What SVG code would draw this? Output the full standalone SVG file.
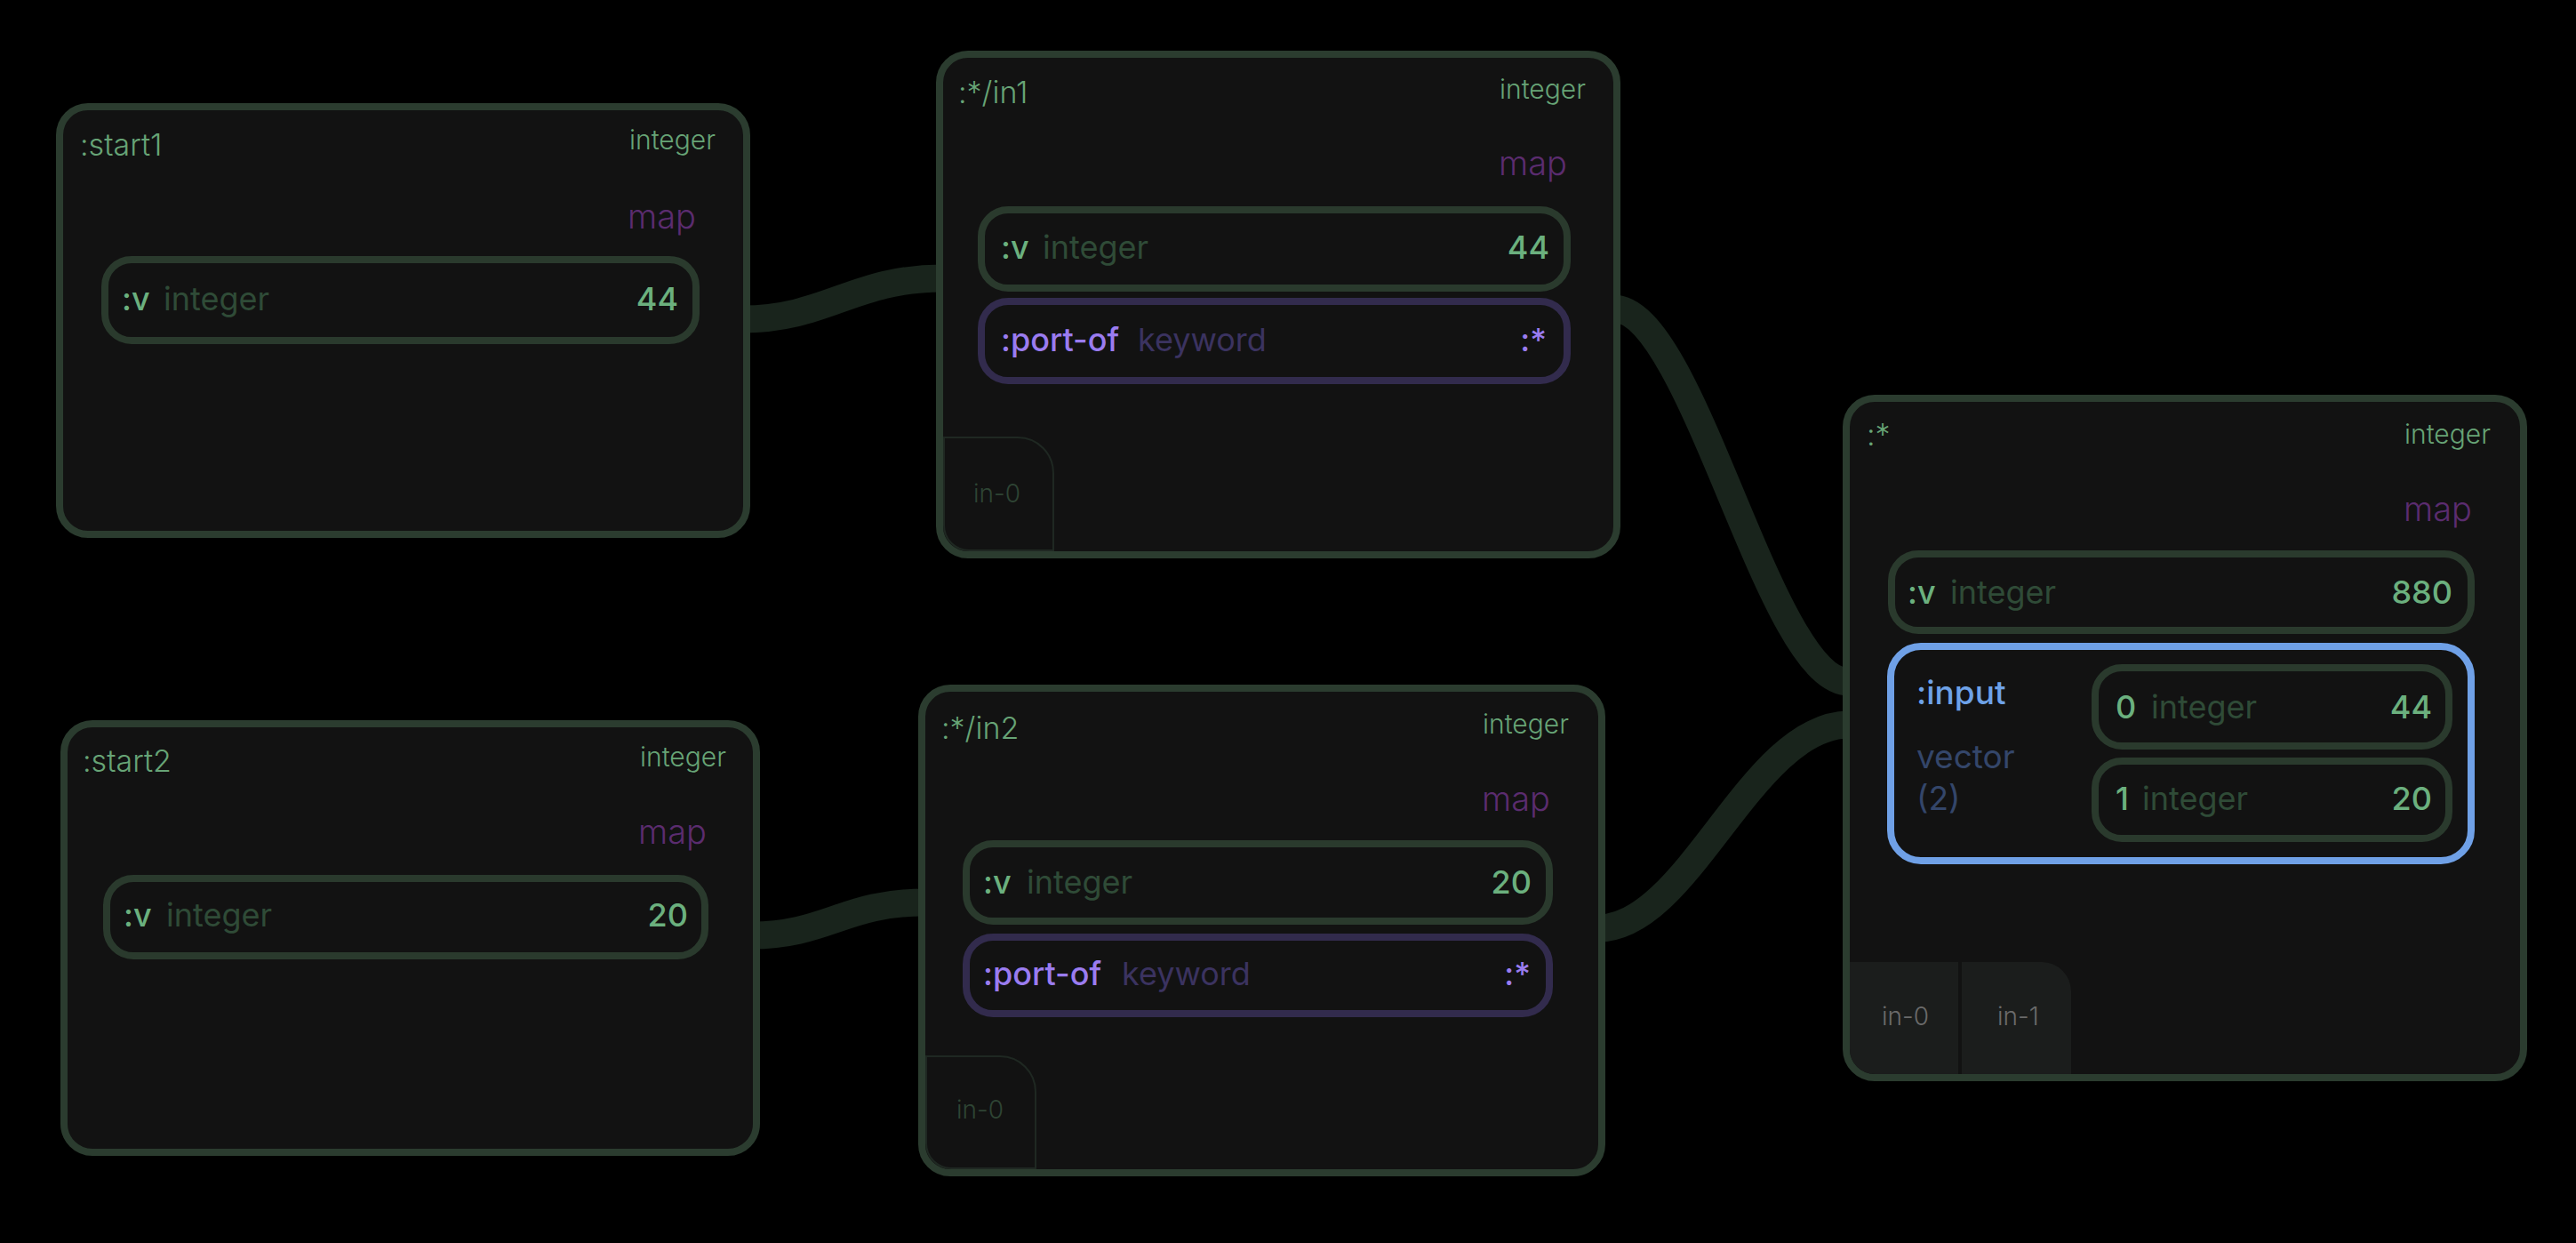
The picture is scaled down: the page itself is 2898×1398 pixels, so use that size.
<svg xmlns="http://www.w3.org/2000/svg" width="2898" height="1398" viewBox="0 0 2898 1398">
<style>
text{font-family:Inter,"Noto Sans","Liberation Sans",sans-serif}
.node{fill:#121212;stroke:#2b3c2f;stroke-width:8}
.field{fill:#121212;stroke:#2a3a2d;stroke-width:8}
.pfield{fill:#121212;stroke:#322b4d;stroke-width:8}
.blue{fill:#121212;stroke:#6fa0e6;stroke-width:8}
.title{font-size:34px;font-weight:300;fill:#67a476}
.hlabel{font-size:30px;font-weight:300;fill:#67a476;text-anchor:end}
.map{font-size:38px;font-weight:300;fill:#5b2c6f;text-anchor:end}
.key{font-size:36px;font-weight:500;fill:#6bb07e}
.type{font-size:36px;font-weight:400;fill:#2f4b37}
.val{font-size:36px;font-weight:500;fill:#6bb07e;text-anchor:end}
.pkey{font-size:36px;font-weight:500;fill:#9a7cf0}
.ptype{font-size:36px;font-weight:400;fill:#3b3360}
.pval{font-size:36px;font-weight:500;fill:#9a7cf0;text-anchor:end}
.ikey{font-size:37px;font-weight:500;fill:#6ea2e8}
.itype{font-size:37px;font-weight:400;fill:#34466a}
.tab{fill:#121212;stroke:#1f2822;stroke-width:2}
.tabtxt{font-size:28px;font-weight:300;fill:#2e4434}
.otab{fill:#1b1d1c}
.otabtxt{font-size:28px;font-weight:300;fill:#6a6a6a}
.conn{fill:none;stroke:#19241c;stroke-width:31}
</style>
<rect x="0" y="0" width="2898" height="1398" fill="#000"/>
<g id="connectors">
<path class="conn" d="M835,359 C930,359 960,313 1060,313"/>
<path class="conn" d="M845,1052 C930,1052 950,1015 1040,1015"/>
<path class="conn" d="M1815,347 C1905,347 1990,767 2080,767"/>
<path class="conn" d="M1798,1044 C1900,1044 1970,815 2080,815"/>
</g>
<g id="start1">
<rect class="node" x="67" y="120" width="773" height="481" rx="32"/>
<text class="title" x="90" y="175">:start1</text>
<text class="hlabel" x="805" y="168">integer</text>
<text class="map" x="783" y="257">map</text>
<rect class="field" x="118" y="292" width="665" height="91" rx="30"/>
<text class="key" x="137" y="349">:v</text>
<text class="type" x="184" y="349">integer</text>
<text class="val" x="763" y="349">44</text>
</g>
<g id="start2">
<rect class="node" x="72" y="814" width="779" height="482" rx="32"/>
<text class="title" x="93" y="868">:start2</text>
<text class="hlabel" x="817" y="862">integer</text>
<text class="map" x="795" y="949">map</text>
<rect class="field" x="120" y="988" width="673" height="87" rx="30"/>
<text class="key" x="139" y="1042">:v</text>
<text class="type" x="187" y="1042">integer</text>
<text class="val" x="774" y="1042">20</text>
</g>
<g id="in1">
<rect class="node" x="1057" y="61" width="762" height="563" rx="32"/>
<path class="tab" d="M1062,492 H1145 A40,40 0 0 1 1185,532 V619 H1090 A28,28 0 0 1 1062,591 Z"/>
<text class="title" x="1078" y="116">:*/in1</text>
<text class="hlabel" x="1784" y="111">integer</text>
<text class="map" x="1763" y="197">map</text>
<rect class="field" x="1104" y="236" width="659" height="88" rx="30"/>
<text class="key" x="1126" y="291">:v</text>
<text class="type" x="1173" y="291">integer</text>
<text class="val" x="1743" y="291">44</text>
<rect class="pfield" x="1104" y="339" width="659" height="89" rx="30"/>
<text class="pkey" x="1126" y="395">:port-of</text>
<text class="ptype" x="1280" y="395">keyword</text>
<text class="pval" x="1740" y="395">:*</text>
<text class="tabtxt" x="1095" y="565">in-0</text>
</g>
<g id="in2">
<rect class="node" x="1037" y="774" width="765" height="545" rx="32"/>
<path class="tab" d="M1042,1188 H1125 A40,40 0 0 1 1165,1228 V1314 H1070 A28,28 0 0 1 1042,1286 Z"/>
<text class="title" x="1059" y="831">:*/in2</text>
<text class="hlabel" x="1765" y="825">integer</text>
<text class="map" x="1744" y="912">map</text>
<rect class="field" x="1087" y="949" width="656" height="87" rx="30"/>
<text class="key" x="1106" y="1005">:v</text>
<text class="type" x="1155" y="1005">integer</text>
<text class="val" x="1723" y="1005">20</text>
<rect class="pfield" x="1087" y="1054" width="656" height="86" rx="30"/>
<text class="pkey" x="1106" y="1108">:port-of</text>
<text class="ptype" x="1262" y="1108">keyword</text>
<text class="pval" x="1722" y="1108">:*</text>
<text class="tabtxt" x="1076" y="1258">in-0</text>
</g>
<g id="output">
<rect class="node" x="2077" y="448" width="762" height="764" rx="32"/>
<path class="otab" d="M2081,1082 H2203 V1208 H2109 A28,28 0 0 1 2081,1180 Z"/>
<path class="otab" d="M2207,1082 H2297 A33,33 0 0 1 2330,1115 V1208 H2207 Z"/>
<text class="title" x="2100" y="501">:*</text>
<text class="hlabel" x="2802" y="499">integer</text>
<text class="map" x="2781" y="586">map</text>
<rect class="field" x="2128" y="623" width="652" height="86" rx="30"/>
<text class="key" x="2146" y="679">:v</text>
<text class="type" x="2194" y="679">integer</text>
<text class="val" x="2759" y="679">880</text>
<rect class="blue" x="2127" y="727" width="653" height="241" rx="34"/>
<text class="ikey" x="2156" y="792">:input</text>
<text class="itype" x="2156" y="864">vector</text>
<text class="itype" x="2156" y="911">(2)</text>
<rect class="field" x="2357" y="751" width="398" height="88" rx="30"/>
<text class="key" x="2380" y="808">0</text>
<text class="type" x="2420" y="808">integer</text>
<text class="val" x="2736" y="808">44</text>
<rect class="field" x="2357" y="856" width="398" height="87" rx="30"/>
<text class="key" x="2380" y="911">1</text>
<text class="type" x="2410" y="911">integer</text>
<text class="val" x="2736" y="911">20</text>
<text class="otabtxt" x="2117" y="1153">in-0</text>
<text class="otabtxt" x="2247" y="1153">in-1</text>
</g>
</svg>
